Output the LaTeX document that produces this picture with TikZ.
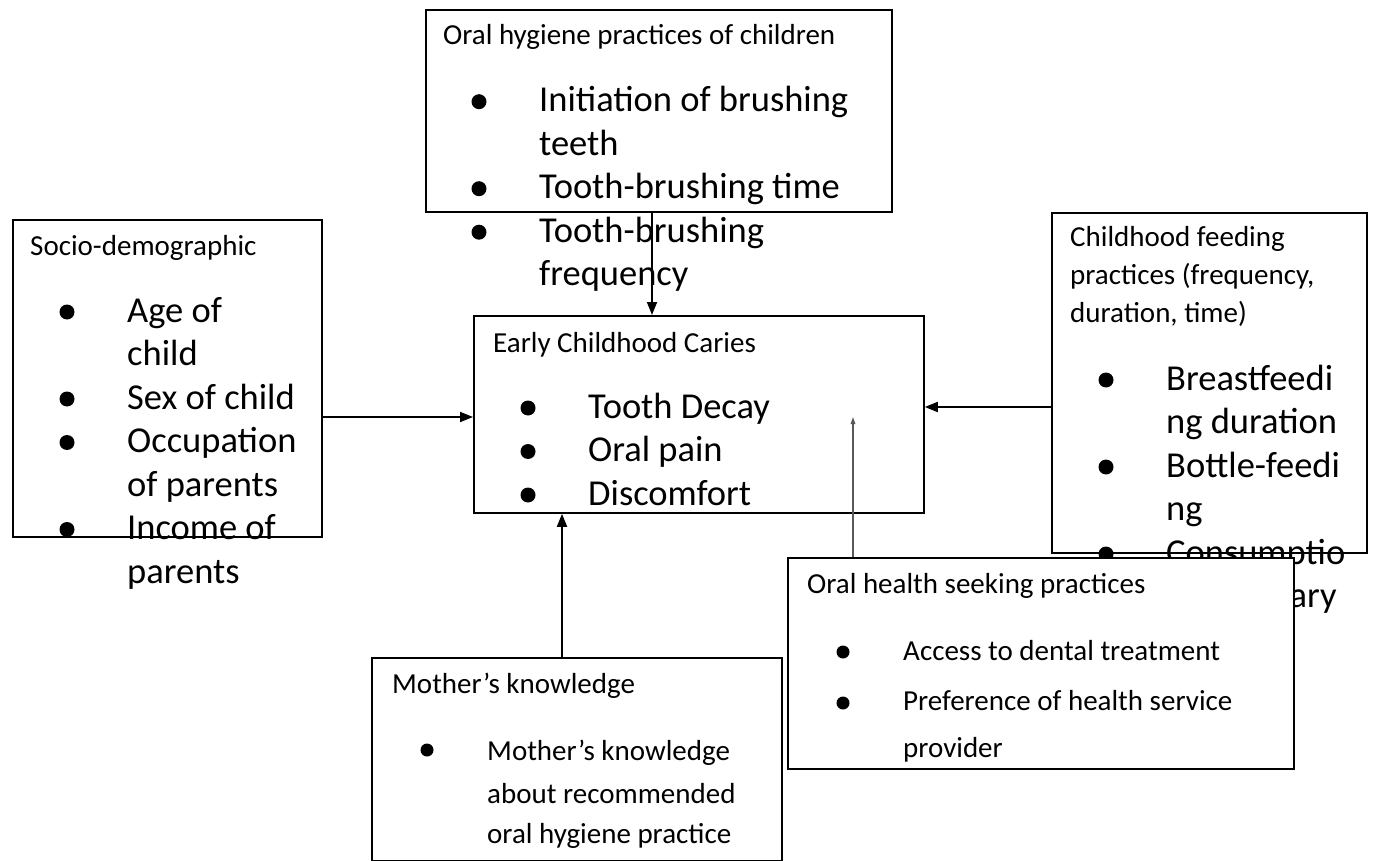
\documentclass[tikz,border=0pt]{standalone}
\usepackage{fontspec}
\setmainfont{Carlito}
\usetikzlibrary{arrows.meta}

\begin{document}
\begin{tikzpicture}[x=1pt, y=-1pt, >=Latex,
    box/.style={draw, line width=1.8pt, anchor=north west, inner sep=0pt},
    head/.style={font=\fontsize{29}{37.5}\selectfont, anchor=base west, inner sep=0pt},
    item/.style={font=\fontsize{36.5}{43.5}\selectfont, anchor=base west, inner sep=0pt},
    note/.style={font=\fontsize{29}{43}\selectfont, anchor=base west, inner sep=0pt},
    link/.style={-{Triangle[length=13pt,width=10pt]}, line width=1.8pt},
    faint/.style={-{Triangle[length=7pt,width=4.5pt]}, line width=1.3pt, black!65}]

    \useasboundingbox (0,0) rectangle (1374,861);

    % ===== ORAL HYGIENE (top) =====
    \node[box, minimum width=466pt, minimum height=202pt] (hyg) at (425,9) {};
    \node[head] (hyg-t) at (443,45) {Oral hygiene practices of children};
    \foreach \t [count=\i] in {Initiation of brushing, teeth, Tooth-brushing time, Tooth-brushing, frequency}
        \node[item] (hyg-\i) at (539, {111.7+43.5*(\i-1)}) {\t};
    \foreach \i in {1,3,4}
        \fill (479, {101.7+43.5*(\i-1)}) circle (7.5pt);

    % ===== SOCIO-DEMOGRAPHIC (left) =====
    \node[box, minimum width=309pt, minimum height=317pt] (soc) at (12,219) {};
    \node[head] (soc-t) at (30,255) {Socio-demographic};
    \foreach \t [count=\i] in {Age of, child, Sex of child, Occupation, of parents, Income of, parents}
        \node[item] (soc-\i) at (127, {322+43.5*(\i-1)}) {\t};
    \foreach \i in {1,3,4,6}
        \fill (67, {312+43.5*(\i-1)}) circle (7.5pt);

    % ===== EARLY CHILDHOOD CARIES (centre) =====
    \node[box, minimum width=450pt, minimum height=197pt] (ecc) at (473,315) {};
    \node[head] (ecc-t) at (493,352) {Early Childhood Caries};
    \foreach \t [count=\i] in {Tooth Decay, Oral pain, Discomfort}
        \node[item] (ecc-\i) at (588, {418+43.5*(\i-1)}) {\t};
    \foreach \i in {1,2,3}
        \fill (528, {408+43.5*(\i-1)}) circle (7.5pt);

    % ===== FEEDING PRACTICES (right) =====
    \node[box, minimum width=315pt, minimum height=340pt] (feed) at (1051,212) {};
    \foreach \t [count=\i] in {Childhood feeding, {practices (frequency,}, {duration, time)}}
        \node[head] (feed-t\i) at (1070, {247+37.5*(\i-1)}) {\t};
    \foreach \t [count=\i] in {Breastfeedi, ng duration, Bottle-feedi, ng, Consumptio, {\spaceskip=12pt n of sugary}}
        \node[item] (feed-\i) at (1166, {390+43.5*(\i-1)}) {\t};
    \foreach \i in {1,3,5}
        \fill (1106, {380+43.5*(\i-1)}) circle (7.5pt);

    % ===== HEALTH SEEKING (lower right, drawn over feeding text) =====
    \node[box, fill=white, minimum width=506pt, minimum height=211pt] (seek) at (787,557) {};
    \node[head] (seek-t) at (807,593) {Oral health seeking practices};
    \node[note] (seek-1) at (903,660) {Access to dental treatment};
    \node[note] (seek-2) at (903,710) {Preference of health service};
    \node[note] (seek-3) at (903,757) {provider};
    \fill (843,652) circle (6.5pt);
    \fill (843,703) circle (6.5pt);

    % ===== MOTHER'S KNOWLEDGE (bottom) =====
    \node[box, minimum width=410pt, minimum height=203pt] (mom) at (371,657) {};
    \node[head] (mom-t) at (392,693) {Mother’s knowledge};
    \foreach \t/\y [count=\i] in {Mother’s knowledge/760, about recommended/803, oral hygiene practice/843}
        \node[note] (mom-\i) at (487,\y) {\t};
    \fill (427,750) circle (6.5pt);

    % ===== CONNECTORS =====
    \coordinate (colH) at (652,0);
    \coordinate (colM) at (562,0);
    \coordinate (rowS) at (0,417);
    \coordinate (rowF) at (0,407);
    \coordinate (tipO) at (853,417);
    \draw[link] (hyg.south -| colH) -- (ecc.north -| colH);
    \draw[link] (soc.east |- rowS) -- (ecc.west |- rowS);
    \draw[link] (feed.west |- rowF) -- (ecc.east |- rowF);
    \draw[link] (mom.north -| colM) -- (ecc.south -| colM);
    \draw[faint] (seek.north -| tipO) -- (tipO);

\end{tikzpicture}
\end{document}
